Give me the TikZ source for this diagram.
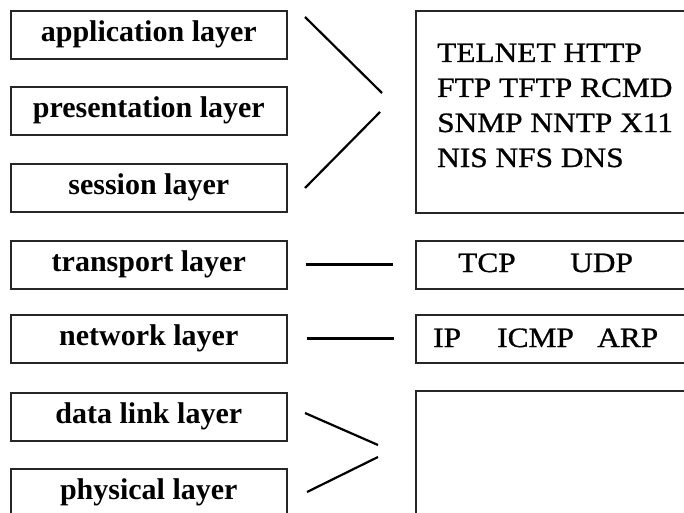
\documentclass[tikz,border=0pt]{standalone}
\usepackage{fontspec}
\setmainfont{Liberation Serif}
\newfontfamily\protofont[FakeStretch=1.12,FakeBold=0.9]{Liberation Serif}
\begin{document}
\begin{tikzpicture}[x=1pt,y=-1pt,
  layerbox/.style={draw=black!85, line width=1.6pt, minimum width=276pt,
    minimum height=48pt, inner sep=0pt, anchor=north west,
    font=\fontsize{30}{30}\selectfont\bfseries, text height=20pt, text depth=6pt},
  protobox/.style={draw=black!85, line width=1.6pt, anchor=north west,
    inner sep=0pt, minimum width=290pt},
  proto/.style={anchor=base west, inner sep=0pt,
    font=\fontsize{28}{28}\protofont},
  link/.style={line width=2.2pt},
  bar/.style={line width=3pt}]
\useasboundingbox (0,0) rectangle (684,513);
\clip (0,0) rectangle (684,513);
\fill[white] (0,0) rectangle (684,513);

% OSI layers
\node[layerbox] (app)   at (10,10)  {application layer};
\node[layerbox] (pres)  at (10,86)  {presentation layer};
\node[layerbox] (sess)  at (10,163) {session layer};
\node[layerbox] (trans) at (10,240) {transport layer};
\node[layerbox] (net)   at (10,314) {network layer};
\node[layerbox] (dl)    at (10,392) {data link layer};
\node[layerbox] (phys)  at (10,468) {physical layer};

% protocol boxes (running off the right edge)
\node[protobox, minimum height=202pt] (apps)    at (415,10)  {};
\node[protobox, minimum height=48pt]  (tcpbox)  at (415,240) {};
\node[protobox, minimum height=48pt]  (ipbox)   at (415,314) {};
\node[protobox, minimum height=140pt] (linkbox) at (415,390) {};

% application protocols
\node[proto] (l1) at (437,62)  {TELNET HTTP};
\node[proto] (l2) at (437,97)  {FTP TFTP RCMD};
\node[proto] (l3) at (437,132) {SNMP NNTP X11};
\node[proto] (l4) at (437,167) {NIS NFS DNS};

% transport and network protocols
\node[proto] (tcp)  at (458,272) {TCP};
\node[proto] (udp)  at (570,272) {UDP};
\node[proto] (ip)   at (433,347) {IP};
\node[proto] (icmp) at (497,347) {ICMP};
\node[proto] (arp)  at (597,347) {ARP};

% bracket lines for the upper three layers
\coordinate (a1) at (305,17);
\coordinate (a2) at (382,93);
\coordinate (s1) at (305,188);
\coordinate (s2) at (380,112);
\draw[link] (a1) -- (a2);
\draw[link] (s1) -- (s2);

% single connectors
\draw[bar] ([xshift=18pt]trans.east) -- ([xshift=105pt]trans.east);
\draw[bar] ([xshift=19pt]net.east) -- ([xshift=106pt]net.east);

% bracket lines for the lower two layers
\coordinate (d1) at (305,413);
\coordinate (d2) at (378,445);
\coordinate (p1) at (307,492);
\coordinate (p2) at (378,457);
\draw[link] (d1) -- (d2);
\draw[link] (p1) -- (p2);
\end{tikzpicture}
\end{document}
